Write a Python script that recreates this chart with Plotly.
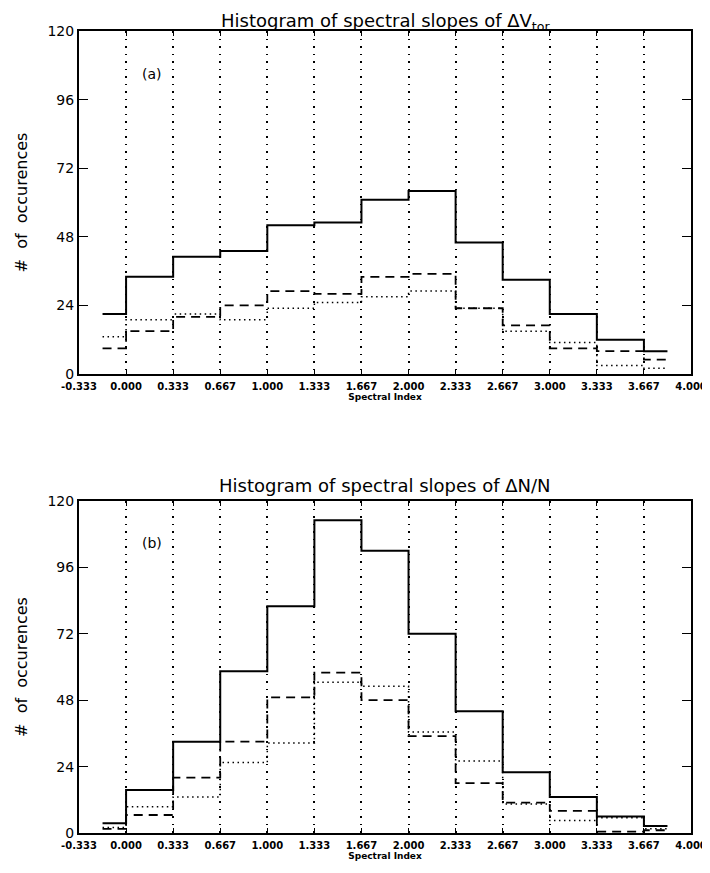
import plotly.graph_objects as go

# bin edges (spectral index); steps change at the 1/3 grid lines
edges = [-1/6, 0.0, 1/3, 2/3, 1.0, 4/3, 5/3, 2.0, 7/3, 8/3, 3.0, 10/3, 11/3, 23/6]

# panel (a): Delta V_tor
a_total = [21, 34, 41, 43, 52, 53, 61, 64, 46, 33, 21, 12, 8]
a_dash = [9, 15, 20, 24, 29, 28, 34, 35, 23, 17, 9, 8, 5]
a_dot = [13, 19, 21, 19, 23, 25, 27, 29, 23, 15, 11, 3, 2]

# panel (b): Delta N / N
b_total = [3.5, 15.5, 33, 58.5, 82, 113, 102, 72, 44, 22, 13, 6, 2.5]
b_dash = [1.5, 6.5, 20, 33, 49, 58, 48, 35, 18, 11, 8, 0.5, 1]
b_dot = [2, 9.5, 13, 25.5, 32.5, 54.5, 53, 36.5, 26, 10.5, 4.5, 5.5, 1.5]

tick_vals = [-1/3 + i/3 for i in range(14)]
tick_text = ["-0.333", "0.000", "0.333", "0.667", "1.000", "1.333", "1.667",
             "2.000", "2.333", "2.667", "3.000", "3.333", "3.667", "4.000"]
y_ticks = [0, 24, 48, 72, 96, 120]

titles = ["Histogram of spectral slopes of ΔV<sub>tor</sub>",
          "Histogram of spectral slopes of ΔN/N"]
labels = ["(a)", "(b)"]

FONT = "DejaVu Sans"

fig = go.Figure()

def add_panel(idx, total, dash, dot):
    xa = "x" if idx == 1 else "x2"
    ya = "y" if idx == 1 else "y2"
    for vals, style, w in [(dot, "1.5px,3.5px", 1.5), (dash, "9px,6px", 1.8), (total, "solid", 2.0)]:
        fig.add_trace(go.Scatter(
            x=edges, y=list(vals) + [vals[-1]], mode="lines",
            line=dict(shape="hv", color="black", width=w, dash=style),
            xaxis=xa, yaxis=ya, showlegend=False, hoverinfo="skip"))

add_panel(1, a_total, a_dash, a_dot)
add_panel(2, b_total, b_dash, b_dot)

W = 710.0
H = 873.0
def px_x(p):
    return p / W
def px_y(p):
    return 1 - p / H

xdom = [px_x(71), px_x(683)]
dom_a = [px_y(366), px_y(23)]
dom_b = [px_y(825), px_y(493)]

xcommon = dict(range=[-1/3, 4.0], tickmode="array", tickvals=tick_vals, ticktext=tick_text,
               showgrid=True, gridcolor="black", griddash="1.5px,6px", gridwidth=1.5,
               showline=True, linecolor="black", linewidth=2, mirror="ticks",
               ticks="inside", ticklen=5, tickcolor="black", zeroline=False, automargin=False,
               ticklabelstandoff=2,
               tickfont=dict(family=FONT, size=10, color="black", weight="bold"),
               title=dict(text="Spectral Index", font=dict(family=FONT, size=9, color="black", weight="bold"),
                          standoff=1),
               domain=xdom)
ycommon = dict(range=[0, 120], tickmode="array", tickvals=y_ticks, showgrid=False,
               showline=True, linecolor="black", linewidth=2, mirror="ticks",
               ticks="inside", ticklen=9, tickcolor="black", zeroline=False, automargin=False,
               tickfont=dict(family=FONT, size=14, color="black"),
               title=dict(text="#  of  occurences", font=dict(family=FONT, size=16, color="black"),
                          standoff=16))

fig.update_layout(
    width=int(W), height=int(H), paper_bgcolor="white", plot_bgcolor="white",
    margin=dict(l=0, r=0, t=0, b=0),
    xaxis=dict(xcommon, anchor="y"),
    yaxis=dict(ycommon, domain=dom_a, anchor="x"),
    xaxis2=dict(xcommon, anchor="y2"),
    yaxis2=dict(ycommon, domain=dom_b, anchor="x2"),
)

title_y = [1.0, px_y(493 - 28)]
for i, (xr, yr) in enumerate([("x", "y"), ("x2", "y2")]):
    fig.add_annotation(text=titles[i], xref="paper", yref="paper",
                       x=(xdom[0] + xdom[1]) / 2, y=title_y[i], yanchor="top",
                       showarrow=False, font=dict(family=FONT, size=18, color="black"))
    fig.add_annotation(text=labels[i], xref=xr, yref=yr, x=0.18, y=105,
                       showarrow=False, font=dict(family=FONT, size=14, color="black"))

fig.write_html("out.html")
